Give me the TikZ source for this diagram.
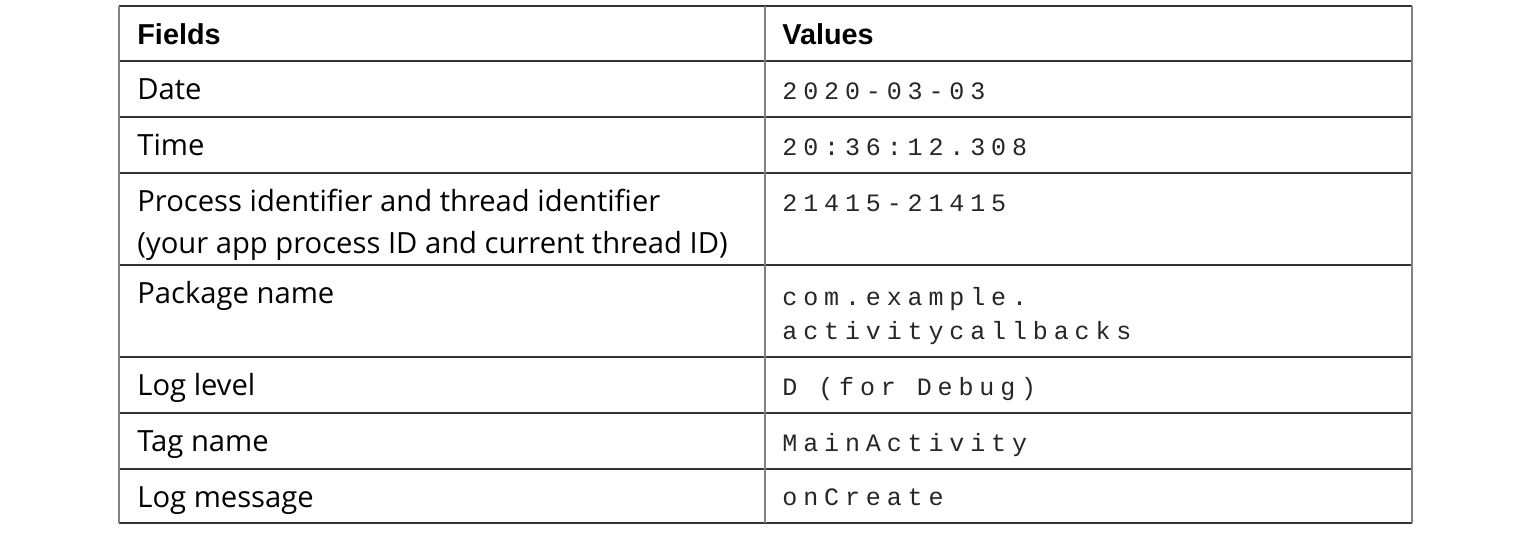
\documentclass[tikz,border=0pt]{standalone}
\usepackage{fontspec}
\setmainfont{Open Sans}
\newfontfamily\headfont{Liberation Sans}
\newfontfamily\logfont[LetterSpace=23.5]{Liberation Mono}
\begin{document}
\begin{tikzpicture}[x=0.5pt,y=-0.5pt,
    field/.style={anchor=base west, inner sep=0pt, font=\fontsize{14.6}{16}\selectfont},
    head/.style={anchor=base west, inner sep=0pt, font=\headfont\fontsize{14.4}{16}\selectfont\bfseries},
    logval/.style={anchor=base west, inner sep=0pt, font=\logfont\fontsize{12.5}{14}\selectfont, text=black!85}]
    \useasboundingbox (0,0) rectangle (1532,532);
    % rules of the table
    \foreach \y in {6,61,117,173,265,357,413,469,523}
        \draw[black!80, line width=0.6pt] (119,\y) -- (1412,\y);
    \foreach \x in {119,765,1412}
        \draw[black!50, line width=0.9pt] (\x,6) -- (\x,523);
    % header
    \node[head] (fields) at (137,44) {Fields};
    \node[head] (values) at (782,44) {Values};
    % fields column
    \node[field] (date) at (137,99) {Date};
    \node[field] (time) at (137,155) {Time};
    \node[field] (pid) at (137,211) {Process identifier and thread identifier};
    \node[field] (pid2) at (137,253) {(your app process ID and current thread ID)};
    \node[field] (pkg) at (137,303) {Package name};
    \node[field] (level) at (137,395) {Log level};
    \node[field] (tag) at (137,451) {Tag name};
    \node[field] (msg) at (137,507) {Log message};
    % values column
    \node[logval] (dateval) at (782,99) {2020-03-03};
    \node[logval] (timeval) at (782,155) {20:36:12.308};
    \node[logval] (pidval) at (782,211) {21415-21415};
    \node[logval] (pkgval) at (782,305) {com.example.};
    \node[logval] (pkgval2) at (782,339) {activitycallbacks};
    \node[logval] (levelval) at (782,395) {D (for Debug)};
    \node[logval] (tagval) at (782,451) {MainActivity};
    \node[logval] (msgval) at (782,505) {onCreate};
\end{tikzpicture}
\end{document}
